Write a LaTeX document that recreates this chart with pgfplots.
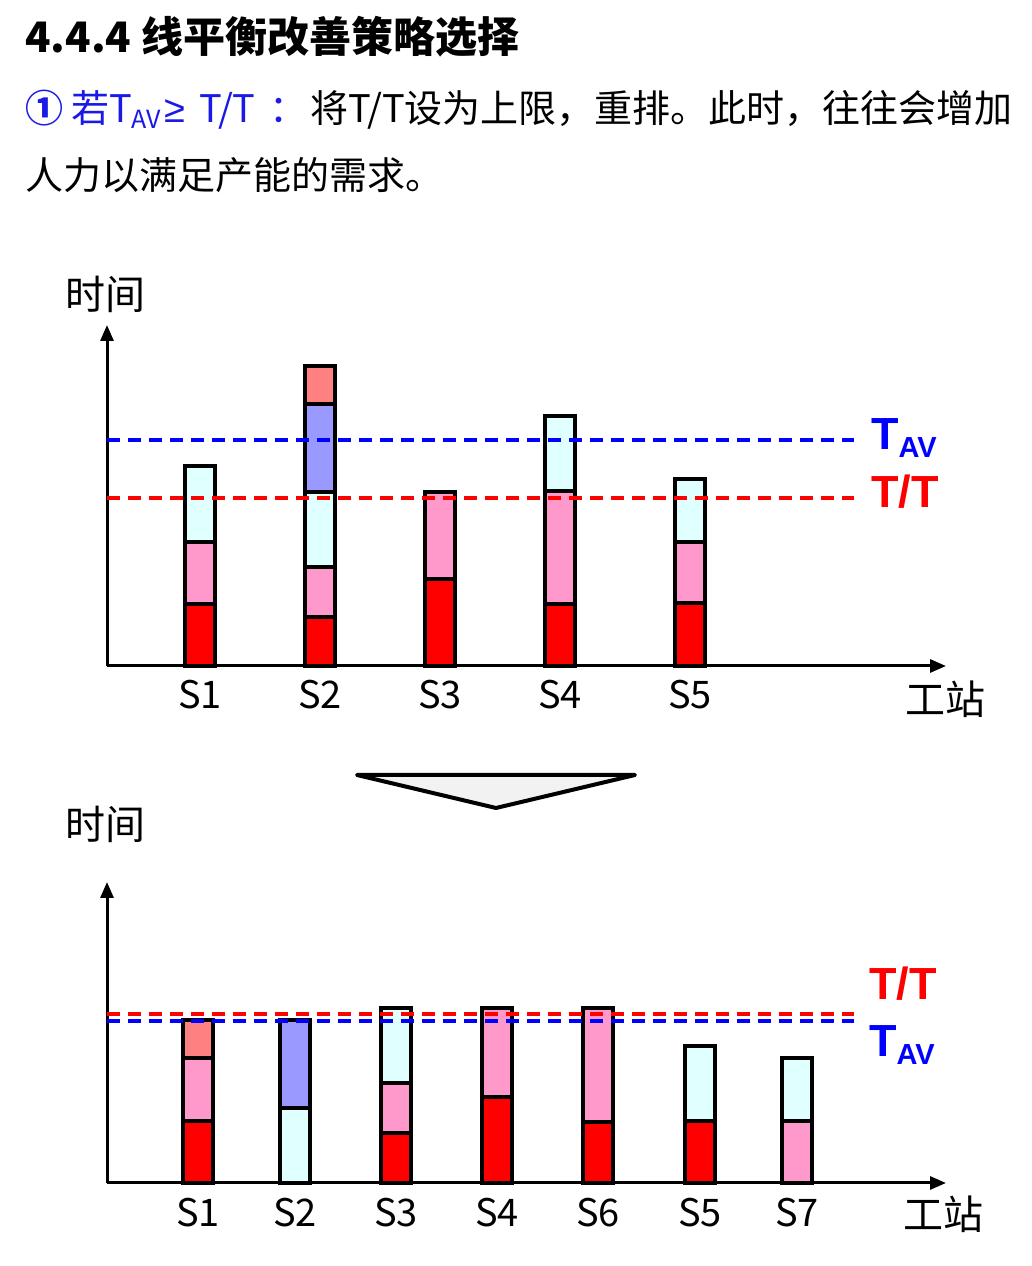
\documentclass[border=0pt]{standalone}
\usepackage{fontspec}
\usepackage{pgfplots}
\pgfplotsset{compat=1.18}
\usetikzlibrary{arrows.meta}
\setmainfont{Noto Sans CJK SC}
\newfontfamily\labfont{Liberation Sans}
\definecolor{cRed}{HTML}{FF0000}
\definecolor{cPink}{HTML}{FF99CC}
\definecolor{cCyan}{HTML}{E0FFFF}
\definecolor{cBlue}{HTML}{9999FF}
\definecolor{cSalmon}{HTML}{FF8080}
\definecolor{tBlue}{HTML}{1A1AE6}
\definecolor{triFill}{HTML}{F2F2F2}

\pgfplotsset{
  chartbase/.style={
    scale only axis, anchor=south west, clip=false,
    width=839pt, xmin=0, xmax=839, ymin=0,
  },
  barchart/.style={
    chartbase,
    axis lines=left,
    axis line style={line width=3pt},
    x axis line style={-{Triangle[length=16pt,width=13pt]}},
    y axis line style={-{Triangle[length=16pt,width=13pt]}},
    ytick=\empty, major tick length=0pt,
    xticklabel style={anchor=base, yshift=-43pt, font=\fontsize{38}{38}\selectfont},
    ybar stacked, bar width=30pt,
    every axis plot/.append style={draw=black, line width=4pt},
  },
  lineoverlay/.style={chartbase, hide axis},
  dashline/.style={line width=3.5pt, dash pattern=on 13pt off 8pt, mark=none},
}

\begin{document}
\begin{tikzpicture}[x=1pt,y=1pt]
\useasboundingbox (0,0) rectangle (1031,1266);

% ---- header text ----
\node[anchor=base west, inner sep=0pt, font=\fontsize{42}{42}\selectfont\bfseries] at (25,1213) {4.4.4 线平衡改善策略选择};
\node[anchor=base west, inner sep=0pt, text=tBlue, font=\fontsize{38}{38}\selectfont] at (25,1143) {{\bfseries ①}\hspace{8pt}若T\raisebox{-6pt}{\fontsize{25}{25}\selectfont AV}\hspace{3pt}{\labfont ≥}\hspace{14pt}T/T\hspace{14pt}：};
\node[anchor=base west, inner sep=0pt, font=\fontsize{38}{38}\selectfont] at (310,1143) {将T/T设为上限，重排。此时，往往会增加};
\node[anchor=base west, inner sep=0pt, font=\fontsize{38}{38}\selectfont] at (25,1076) {人力以满足产能的需求。};

% ---- top chart ----
\node[anchor=base west, inner sep=0pt, font=\fontsize{40}{40}\selectfont] at (65,956) {时间};
\node[anchor=base west, inner sep=0pt, font=\fontsize{40}{40}\selectfont] at (905,551) {工站};

\begin{axis}[barchart, at={(107,600)}, height=341pt, ymax=341,
  xtick={93,213,333,453,583}, xticklabels={S1,S2,S3,S4,S5}]
\addplot[fill=cRed]    coordinates {(93,62) (213,49) (333,87) (453,62) (583,63)};
\addplot[fill=cPink]   coordinates {(93,62) (213,50) (333,87) (453,113) (583,61)};
\addplot[fill=cCyan]   coordinates {(93,76) (213,75) (333,0) (453,75) (583,63)};
\addplot[fill=cBlue]   coordinates {(93,0) (213,88) (333,0) (453,0) (583,0)};
\addplot[fill=cSalmon] coordinates {(93,0) (213,38) (333,0) (453,0) (583,0)};
\end{axis}
\begin{axis}[lineoverlay, at={(107,600)}, height=341pt, ymax=341]
\addplot[dashline, color=blue] coordinates {(0,226) (747,226)};
\addplot[dashline, color=red]  coordinates {(0,168) (747,168)};
\end{axis}
\node[anchor=base west, inner sep=0pt, text=blue, font=\labfont\bfseries\fontsize{45}{45}\selectfont] at (871,816) {T\raisebox{-8pt}{\fontsize{29}{29}\selectfont AV}};
\node[anchor=base west, inner sep=0pt, text=red, font=\labfont\bfseries\fontsize{45}{45}\selectfont] at (871,758) {T/T};

% ---- arrow triangle ----
\draw[line width=4pt, line join=round, fill=triFill] (357,491) -- (635,491) -- (496,458) -- cycle;

% ---- bottom chart ----
\node[anchor=base west, inner sep=0pt, font=\fontsize{40}{40}\selectfont] at (65,426) {时间};
\node[anchor=base west, inner sep=0pt, font=\fontsize{40}{40}\selectfont] at (903,36) {工站};

\begin{axis}[barchart, at={(107,83)}, height=301pt, ymax=301,
  xtick={91,188,289,390,491,593,690}, xticklabels={S1,S2,S3,S4,S6,S5,S7}]
\addplot[fill=cRed]    coordinates {(91,62) (188,0) (289,50) (390,86) (491,61) (593,62) (690,0)};
\addplot[fill=cPink]   coordinates {(91,63) (188,0) (289,50) (390,89) (491,114) (593,0) (690,62)};
\addplot[fill=cCyan]   coordinates {(91,0) (188,75) (289,75) (390,0) (491,0) (593,75) (690,63)};
\addplot[fill=cBlue]   coordinates {(91,0) (188,88) (289,0) (390,0) (491,0) (593,0) (690,0)};
\addplot[fill=cSalmon] coordinates {(91,38) (188,0) (289,0) (390,0) (491,0) (593,0) (690,0)};
\end{axis}
\begin{axis}[lineoverlay, at={(107,83)}, height=301pt, ymax=301]
\addplot[dashline, color=red]  coordinates {(0,169) (747,169)};
\addplot[dashline, color=blue] coordinates {(0,162) (747,162)};
\end{axis}
\node[anchor=base west, inner sep=0pt, text=red, font=\labfont\bfseries\fontsize{45}{45}\selectfont] at (869,266) {T/T};
\node[anchor=base west, inner sep=0pt, text=blue, font=\labfont\bfseries\fontsize{45}{45}\selectfont] at (869,209) {T\raisebox{-8pt}{\fontsize{29}{29}\selectfont AV}};

\end{tikzpicture}
\end{document}
